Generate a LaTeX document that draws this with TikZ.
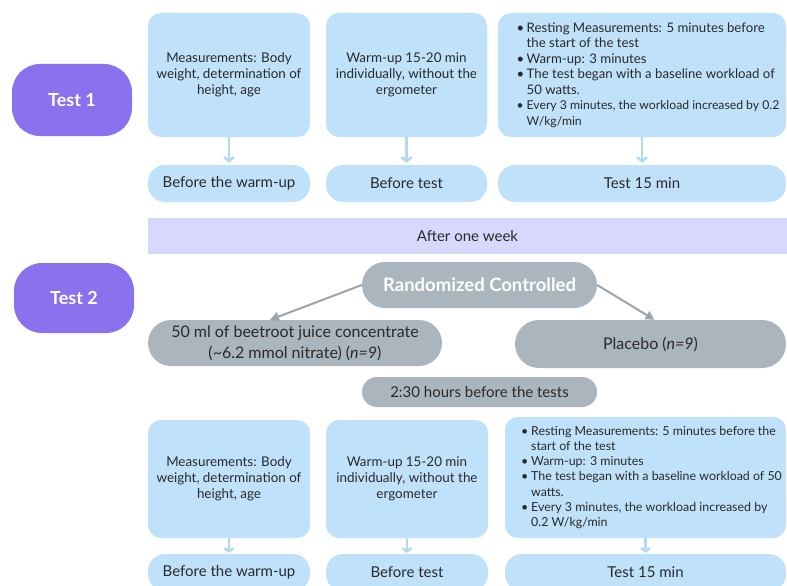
\documentclass[tikz,border=0pt]{standalone}
\usepackage{fontspec}
\setmainfont{Lato}
\usetikzlibrary{arrows.meta}
\definecolor{lb}{HTML}{BFE1F9}
\definecolor{ab}{HTML}{B3DAF5}
\definecolor{lav}{HTML}{D7D8FB}
\definecolor{pur}{HTML}{8A71EE}
\definecolor{gr}{HTML}{AAB5BE}
\definecolor{ga}{HTML}{9EA4A9}
\definecolor{txt}{HTML}{2A2A2A}
\newcommand{\bl}{\hspace*{12pt}\makebox[10pt][l]{\textbullet}}
\newcommand{\ind}{\hspace*{22pt}}
\newcommand{\smf}{\fontsize{12.2}{15.5}\selectfont}
\tikzset{
  bigbox/.style={fill=lb, rounded corners=13pt, inner sep=0pt, align=center, text=txt,
    font=\fontsize{13.4}{16}\selectfont},
  listbox/.style={fill=lb, rounded corners=13pt, inner sep=0pt, text=txt,
    font=\fontsize{13.2}{15.5}\selectfont},
  pill/.style={fill=lb, rounded corners=17pt, inner sep=0pt, text=txt,
    minimum height=37pt, font=\fontsize{15}{18}\selectfont},
  testpill/.style={fill=pur, rounded corners=28pt, inner sep=0pt, text=white,
    minimum width=120pt, font=\fontsize{18}{20}\selectfont\bfseries},
  graypill/.style={fill=gr, inner sep=0pt, text=txt, font=\fontsize{16}{21}\selectfont},
  barrow/.style={draw=ab, line width=2.6pt, -{Straight Barb[length=4pt,width=10pt]}},
  garrow/.style={draw=ga, line width=2pt, -{Triangle[length=9pt,width=9pt]}}
}
\begin{document}
\begin{tikzpicture}[x=1pt,y=-1pt]
\clip (0,0) rectangle (787,586);
\fill[white] (0,0) rectangle (787,586);
% Test pills
\node[testpill, minimum height=72pt] (t1) at (72,100) {Test 1};
\node[testpill, minimum height=70pt] (t2) at (74,298) {Test 2};
% Row 1
\node[bigbox, minimum width=162pt, minimum height=124pt] (a1) at (229,75)
  {Measurements: Body\\weight, determination of\\height, age};
\node[bigbox, minimum width=161pt, minimum height=124pt] (b1) at (406.5,75)
  {Warm-up 15-20 min\\individually, without the\\ergometer};
\node[listbox, minimum width=288pt, minimum height=124pt, align=left] (c1) at (642,75)
  {\bl Resting Measurements: 5 minutes before\\
   \ind the start of the test\\
   \bl Warm-up: 3 minutes\\
   \bl The test began with a baseline workload of\\
   \ind 50 watts.\\
   \smf\bl Every 3 minutes, the workload increased by 0.2\\
   \smf\ind W/kg/min};
\node[pill, minimum width=162pt] (a2) at (229,183.5) {Before the warm-up};
\node[pill, minimum width=161pt] (b2) at (406.5,183.5) {Before test};
\node[pill, minimum width=288pt] (c2) at (642,183.5) {Test 15 min};
\draw[barrow, shorten >=2pt] (a1.south) -- (a2.north);
\draw[barrow, shorten >=2pt] (b1.south) -- (b2.north);
\draw[barrow, shorten >=2pt] (c1.south) -- (c2.north);
% Band
\node[fill=lav, minimum width=639pt, minimum height=36pt, inner sep=0pt, text=txt,
  font=\fontsize{15}{16}\selectfont] (wk) at (467.5,236) {After one week};
% Randomized
\node[graypill, rounded corners=23pt, minimum width=235pt, minimum height=46pt, text=white,
  font=\fontsize{18.5}{20}\selectfont\bfseries] (rc) at (479.5,285) {Randomized Controlled};
\node[graypill, rounded corners=23pt, minimum width=294pt, minimum height=46pt, align=center]
  (bj) at (295,343) {50 ml of beetroot juice concentrate\\(\textasciitilde6.2 mmol nitrate) (\textit{n=9})};
\node[graypill, rounded corners=24pt, minimum width=271pt, minimum height=48pt]
  (pl) at (650.5,344) {Placebo (\textit{n=9})};
\draw[garrow] (rc.west) -- ([xshift=-25pt]bj.north);
\draw[garrow] (rc.east) -- ([xshift=4pt]pl.north);
\node[graypill, rounded corners=15pt, minimum width=235pt, minimum height=30pt,
  font=\fontsize{15}{18}\selectfont]
  (hb) at (479.5,392) {2:30 hours before the tests};
% Row 2
\node[bigbox, minimum width=162pt, minimum height=118pt] (a3) at (229,479)
  {Measurements: Body\\weight, determination of\\height, age};
\node[bigbox, minimum width=162pt, minimum height=118pt] (b3) at (407,479)
  {Warm-up 15-20 min\\individually, without the\\ergometer};
\node[listbox, minimum width=281pt, minimum height=121pt, align=left,
  font=\fontsize{12.4}{15.2}\selectfont] (c3) at (645.5,477.5)
  {\bl Resting Measurements: 5 minutes before the\\
   \ind start of the test\\
   \bl Warm-up: 3 minutes\\
   \bl The test began with a baseline workload of 50\\
   \ind watts.\\
   \bl Every 3 minutes, the workload increased by\\
   \ind 0.2 W/kg/min};
\node[pill, minimum width=162pt] (a4) at (229,572.5) {Before the warm-up};
\node[pill, minimum width=162pt] (b4) at (407,572.5) {Before test};
\node[pill, minimum width=281pt] (c4) at (645.5,572.5) {Test 15 min};
\draw[barrow, shorten >=1pt, -{Straight Barb[length=3pt,width=9pt]}] (a3.south) -- (a4.north);
\draw[barrow, shorten >=1pt, -{Straight Barb[length=3pt,width=9pt]}] (b3.south) -- (b4.north);
\draw[barrow, shorten >=1pt, -{Straight Barb[length=3pt,width=9pt]}] (c3.south) -- (c4.north);
\end{tikzpicture}
\end{document}
